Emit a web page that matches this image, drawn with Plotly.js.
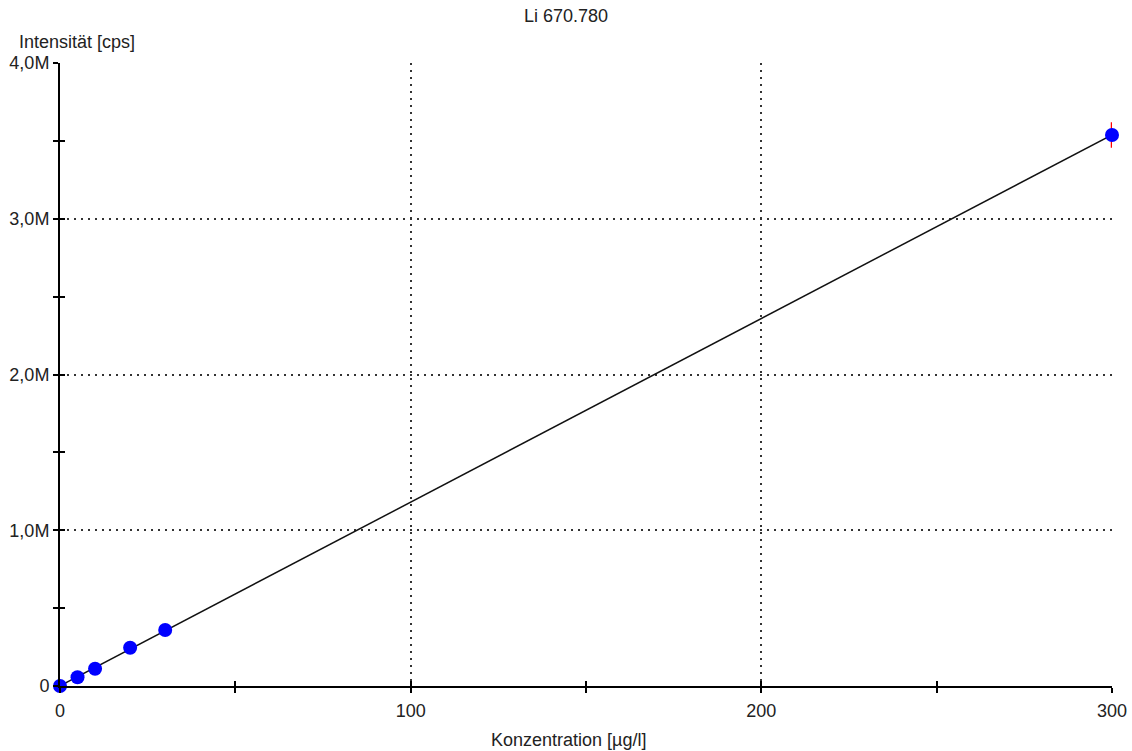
<!DOCTYPE html>
<html>
<head>
<meta charset="utf-8">
<script src="https://cdn.plot.ly/plotly-3.0.1.min.js"></script>
<style>html,body{margin:0;padding:0;background:#fff;}#chart{width:1132px;height:751px;}</style>
</head>
<body>
<div id="chart"></div>
<script>
// Data
const concentration = [0, 5, 10, 20, 30, 300];               // µg/l
const intensity = [0, 56000, 111000, 246000, 360000, 3538000]; // cps
const intensityErr = [2000, 2000, 3000, 3000, 3000, 82000];     // cps

const xTickVals = [0, 100, 200, 300];
const xTickText = ['0', '100', '200', '300'];
const xMinorVals = [50, 150, 250];
const yTickVals = [0, 1000000, 2000000, 3000000, 4000000];
const yTickText = ['0', '1,0M', '2,0M', '3,0M', '4,0M'];
const yMinorVals = [500000, 1500000, 2500000, 3500000];

const titleText = 'Li 670.780';
const xTitleText = 'Konzentration [µg/l]';
const yTitleText = 'Intensität [cps]';

// least-squares calibration line computed from the data
const n = concentration.length;
const mx = concentration.reduce((a, b) => a + b, 0) / n;
const my = intensity.reduce((a, b) => a + b, 0) / n;
let sxy = 0, sxx = 0;
for (let i = 0; i < n; i++) {
  sxy += (concentration[i] - mx) * (intensity[i] - my);
  sxx += (concentration[i] - mx) ** 2;
}
const slope = sxy / sxx;
const intercept = my - slope * mx;
const fitX = [Math.min(...concentration), Math.max(...concentration)];
const fitY = fitX.map(v => intercept + slope * v);

const FONT = 'Liberation Sans, Arial, sans-serif';
const TXT = '#222';

const traces = [
  {
    x: fitX, y: fitY, mode: 'lines', type: 'scatter', cliponaxis: false,
    line: {color: '#111', width: 1.5}, hoverinfo: 'skip', showlegend: false
  },
  {
    x: concentration, y: intensity, mode: 'markers', type: 'scatter', cliponaxis: false,
    marker: {color: '#0000ff', size: 14, line: {width: 0}},
    error_y: {type: 'data', array: intensityErr, visible: true, color: '#ff0000', thickness: 2.5, width: 0},
    showlegend: false
  },
  {
    x: concentration, y: intensity, mode: 'markers', type: 'scatter',
    xaxis: 'x2', yaxis: 'y2', marker: {opacity: 0}, hoverinfo: 'skip', showlegend: false
  }
];

const layout = {
  width: 1132, height: 751,
  margin: {l: 60, r: 20, t: 63, b: 65},
  paper_bgcolor: '#fff', plot_bgcolor: '#fff',
  font: {family: FONT, size: 18, color: TXT},
  title: {text: titleText, x: 0.5, xref: 'container', xanchor: 'center',
          y: (751 - 16) / 751, yref: 'container', yanchor: 'middle',
          font: {family: FONT, size: 18, color: TXT}},
  xaxis: {
    range: [0, 300], fixedrange: true,
    tickmode: 'array', tickvals: xTickVals, ticktext: xTickText,
    ticks: 'outside', ticklen: 5, tickwidth: 2, tickcolor: '#000',
    showline: true, linecolor: '#000', linewidth: 2, zeroline: false,
    showgrid: true, gridcolor: '#333', gridwidth: 2, griddash: '2px,5px',
    tickfont: {family: FONT, size: 18, color: TXT},
    minor: {tickmode: 'array', tickvals: xMinorVals, ticks: 'outside', ticklen: 5, tickwidth: 2, tickcolor: '#000', showgrid: false},
    ticklabelstandoff: 2
  },
  yaxis: {
    range: [0, 4000000], fixedrange: true,
    tickmode: 'array', tickvals: yTickVals, ticktext: yTickText,
    ticks: 'outside', ticklen: 5, tickwidth: 2, tickcolor: '#000',
    showline: true, linecolor: '#000', linewidth: 2, zeroline: false,
    showgrid: true, gridcolor: '#333', gridwidth: 2, griddash: '2px,5px',
    tickfont: {family: FONT, size: 18, color: TXT},
    minor: {tickmode: 'array', tickvals: yMinorVals, ticks: 'outside', ticklen: 5, tickwidth: 2, tickcolor: '#000', showgrid: false}
  },
  xaxis2: {
    overlaying: 'x', anchor: 'y2', range: [0, 300], fixedrange: true,
    tickmode: 'array', tickvals: xTickVals.concat(xMinorVals),
    ticks: 'inside', ticklen: 5, tickwidth: 2, tickcolor: '#000',
    showticklabels: false, showgrid: false, zeroline: false, showline: false
  },
  yaxis2: {
    overlaying: 'y', anchor: 'x2', range: [0, 4000000], fixedrange: true,
    tickmode: 'array', tickvals: yTickVals.concat(yMinorVals),
    ticks: 'inside', ticklen: 5, tickwidth: 2, tickcolor: '#000',
    showticklabels: false, showgrid: false, zeroline: false, showline: false
  },
  annotations: [
    {text: yTitleText, xref: 'paper', yref: 'paper', x: (17 - 60) / 1052, y: (686 - 42) / 623,
     xanchor: 'left', yanchor: 'middle', showarrow: false, font: {family: FONT, size: 18, color: TXT}},
    {text: xTitleText, xref: 'paper', yref: 'paper', x: (568 - 60) / 1052, y: (686 - 740) / 623,
     xanchor: 'center', yanchor: 'middle', showarrow: false, font: {family: FONT, size: 18, color: TXT}}
  ]
};

Plotly.newPlot('chart', traces, layout, {displayModeBar: false, staticPlot: true});
</script>
</body>
</html>
